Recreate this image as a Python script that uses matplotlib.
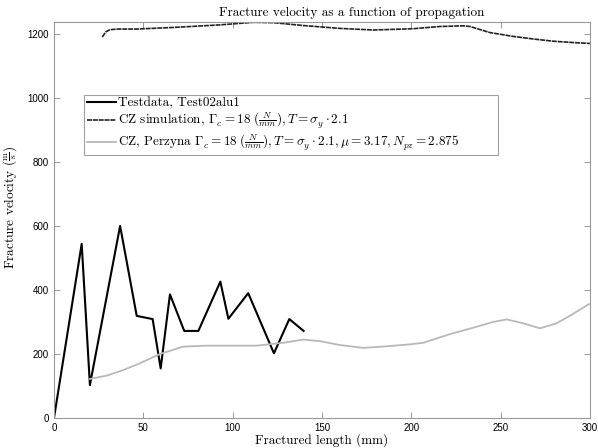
import matplotlib
matplotlib.use("Agg")
import matplotlib.pyplot as plt

plt.rcParams['mathtext.fontset'] = 'cm'

# Test data
test_x = [0, 15.5, 20.1, 37.0, 46.3, 55.2, 59.7, 64.9, 72.9, 80.8, 93.1, 97.6, 108.7, 123.1, 131.7, 139.7]
test_y = [0, 544, 103, 600, 319, 309, 155, 386, 272, 272, 426, 310, 390, 202, 309, 272]

# CZ simulation
cz_x = [27, 29, 31.3, 36, 46.3, 66.8, 92.9, 111.5, 122.7, 139.5, 160, 178.7, 201, 216, 229, 232.8, 244, 257, 268.2, 279.4, 290, 300]
cz_y = [1190, 1206, 1213, 1215, 1215, 1220, 1228, 1236, 1235, 1226, 1217, 1212, 1216, 1223, 1225, 1223, 1204, 1192, 1184, 1177, 1173, 1170]

# CZ Perzyna
pz_x = [20.1, 30, 38.8, 48.1, 59.3, 72.4, 85.5, 100.3, 113.4, 128.3, 139.5, 148.8, 160, 173.1, 186.2, 199.2, 206.7, 221.6, 234.6, 245.8, 253.3, 262.6, 272, 281.3, 288.7, 299.5]
pz_y = [122, 133, 150, 171, 200, 223, 226, 226, 226, 235, 245, 240, 228, 219, 224, 230, 235, 262, 282, 300, 308, 296, 280, 296, 319, 356]

labels = [
    'Testdata, Test02alu1',
    r'CZ simulation, $\Gamma_c = 18\;(\frac{N}{mm}), T = \sigma_y \cdot 2.1$',
    r'CZ, Perzyna $\Gamma_c = 18\;(\frac{N}{mm}), T = \sigma_y \cdot 2.1, \mu = 3.17, N_{pz} = 2.875$',
]

FS = 9.5
fig = plt.figure(figsize=(5.98, 4.48), dpi=100)
ax = fig.add_axes([54/598, 1-418/448, 536/598, 396/448])

ax.plot(test_x, test_y, color='black', lw=1.5, label=labels[0])
ax.plot(cz_x, cz_y, color='#222222', lw=1.2, ls=(0, (3, 0.5)), label=labels[1])
ax.plot(pz_x, pz_y, color='#b8b8b8', lw=1.3, label=labels[2])

ax.set_xlim(0, 300)
ax.set_ylim(0, 1237)
ax.set_xticks([0, 50, 100, 150, 200, 250, 300])
ax.set_yticks([0, 200, 400, 600, 800, 1000, 1200])
ax.tick_params(direction='in', top=True, right=True, length=4, width=0.6,
               color='#888888', labelsize=7)
for lab in ax.get_xticklabels() + ax.get_yticklabels():
    lab.set_family('Liberation Sans')
for s in ax.spines.values():
    s.set_color('#999999')
    s.set_linewidth(0.8)

ax.set_title('Fracture velocity as a function of propagation', family='cmr10', fontsize=FS,
             x=(352-54)/536, pad=4)
ax.set_xlabel('Fractured length (mm)', family='cmr10', fontsize=FS, labelpad=0)
ax.set_ylabel(r'Fracture velocity ($\frac{\mathrm{m}}{\mathrm{s}}$)', family='cmr10', fontsize=FS)
ax.yaxis.set_label_coords(-(54-19)/536, (418-207)/396)

leg = ax.legend(loc='upper left', bbox_to_anchor=(0.056, 0.669, 0.772, 0.147), mode='expand',
                prop={'family': 'cmr10', 'size': FS},
                frameon=True, fancybox=False, handlelength=2.2, handletextpad=0.15,
                borderpad=0.2, labelspacing=0.1, borderaxespad=0)
leg.get_frame().set_edgecolor('#888888')
leg.get_frame().set_linewidth(0.8)

fig.savefig('out.png', dpi=100)
